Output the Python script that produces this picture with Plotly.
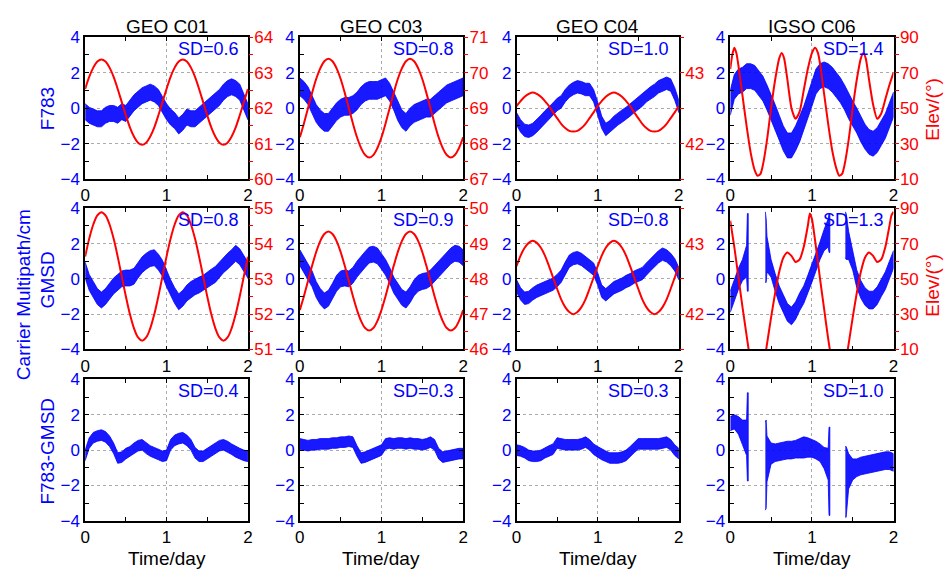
import plotly.graph_objects as go

W, H = 946, 581
FONT = "Liberation Sans, Arial, sans-serif"
BLUE = "#0000FF"
RED = "#FF0000"

# ---------------- data ----------------
t = [0.0, 0.05, 0.1, 0.15, 0.2, 0.25, 0.3, 0.35, 0.4, 0.45, 0.5, 0.55, 0.6, 0.65, 0.7,
     0.75, 0.8, 0.85, 0.9, 0.95, 1.0, 1.05, 1.1, 1.15, 1.2, 1.25, 1.3, 1.35, 1.4, 1.45,
     1.5, 1.55, 1.6, 1.65, 1.7, 1.75, 1.8, 1.85, 1.9, 1.95, 2.0]

satellites = ["GEO C01", "GEO C03", "GEO C04", "IGSO C06"]

# F783 carrier multipath (cm): centre of the point cloud and its half spread
f783_c01 = [-0.2, -0.4, -0.5, -0.6, -0.6, -0.4, -0.3, -0.3, -0.4, -0.2, -0.3, 0.0, 0.3, 0.5, 0.7,
            0.8, 0.9, 0.8, 0.6, 0.2, -0.2, -0.5, -0.7, -1.0, -0.8, -0.5, -0.6, -0.6, -0.4, -0.2,
            0.0, 0.2, 0.4, 0.6, 0.9, 1.1, 1.2, 1.1, 0.9, 0.4, -0.2]
f783_c03 = [1.2, 1.0, 0.7, 0.2, -0.3, -0.6, -0.8, -0.8, -0.5, -0.2, 0.0, 0.1, 0.1, 0.2, 0.4,
            0.7, 0.9, 1.0, 1.0, 1.0, 1.1, 1.2, 0.9, 0.4, -0.2, -0.6, -0.8, -0.5, -0.3, -0.2,
            -0.1, 0.0, 0.0, 0.2, 0.4, 0.6, 0.8, 0.9, 1.0, 1.1, 1.2]
f783_c04 = [-0.6, -1.0, -1.25, -1.3, -1.2, -1.0, -0.75, -0.5, -0.3, -0.05, 0.2, 0.35, 0.7, 0.95, 1.1,
            1.2, 1.15, 1.05, 1.05, 0.7, 0.0, -0.8, -1.2, -1.05, -0.8, -0.6, -0.45, -0.3, -0.1, 0.1,
            0.3, 0.45, 0.7, 0.85, 1.0, 1.2, 1.3, 1.4, 1.3, 0.8, 0.1]
f783_c06 = [0.3, 1.2, 1.5, 1.6, 1.8, 1.8, 1.7, 1.4, 1.1, 0.6, 0.1, -0.5, -1.1, -1.7, -2.1,
            -2.1, -1.7, -1.2, -0.6, 0.1, 0.8, 1.5, 1.8, 1.9, 1.8, 1.6, 1.3, 1.0, 0.6, 0.1,
            -0.3, -0.7, -1.2, -1.6, -1.9, -2.0, -1.8, -1.4, -1.0, -0.4, 0.2]
f783_spread = [0.45, 0.5, 0.35, 0.7]

# GMSD carrier multipath (cm)
gmsd_c01 = [0.5, -0.2, -0.6, -1.0, -1.2, -1.0, -0.7, -0.4, -0.2, 0.0, 0.05, 0.05, 0.15, 0.5, 0.8,
            1.0, 1.15, 1.2, 0.95, 0.6, 0.0, -0.5, -0.95, -1.3, -1.1, -0.8, -0.6, -0.45, -0.35, -0.25,
            -0.05, 0.1, 0.25, 0.5, 0.8, 1.0, 1.2, 1.45, 1.25, 0.9, 0.5]
gmsd_c03 = [1.2, 0.8, 0.4, 0.0, -0.6, -1.0, -1.25, -1.1, -0.7, -0.25, 0.0, 0.05, 0.0, 0.2, 0.55,
            0.85, 1.1, 1.35, 1.4, 1.3, 1.0, 0.65, 0.2, -0.35, -0.7, -1.05, -1.2, -0.9, -0.5, -0.25,
            -0.15, -0.1, 0.05, 0.3, 0.5, 0.8, 1.05, 1.3, 1.45, 1.4, 1.2]
gmsd_c04 = [-0.4, -0.85, -1.1, -1.05, -0.85, -0.7, -0.6, -0.5, -0.4, -0.3, -0.1, 0.15, 0.6, 1.0, 1.15,
            1.2, 1.1, 0.9, 0.75, 0.55, 0.0, -0.7, -0.9, -0.7, -0.5, -0.4, -0.3, -0.15, -0.05, 0.1,
            0.2, 0.3, 0.55, 0.8, 1.05, 1.25, 1.4, 1.3, 1.1, 0.8, 0.3]
gmsd_spread = [0.45, 0.45, 0.35]

# F783-GMSD difference (cm)
diff_c01 = [-0.3, 0.4, 0.7, 0.8, 0.85, 0.75, 0.5, 0.1, -0.45, -0.4, -0.2, -0.1, 0.1, 0.25, 0.3,
            0.1, -0.05, -0.15, -0.25, -0.35, -0.3, 0.3, 0.55, 0.65, 0.7, 0.55, 0.3, -0.15, -0.35, -0.35,
            -0.2, -0.05, 0.1, 0.25, 0.3, 0.2, 0.05, -0.1, -0.2, -0.3, -0.35]
diff_c03 = [0.35, 0.3, 0.25, 0.3, 0.3, 0.35, 0.35, 0.35, 0.4, 0.4, 0.45, 0.45, 0.5, 0.45, -0.05,
            -0.45, -0.4, -0.3, -0.2, -0.1, 0.0, 0.35, 0.4, 0.35, 0.4, 0.4, 0.35, 0.4, 0.35, 0.35,
            0.3, 0.35, 0.45, 0.3, -0.2, -0.4, -0.35, -0.3, -0.25, -0.2, -0.2]
diff_c04 = [0.0, -0.05, -0.15, -0.3, -0.35, -0.35, -0.3, -0.15, -0.05, 0.05, 0.4, 0.35, 0.3, 0.3, 0.3,
            0.3, 0.35, 0.45, 0.3, 0.05, -0.1, -0.25, -0.35, -0.45, -0.45, -0.45, -0.4, -0.3, -0.1, 0.15,
            0.35, 0.35, 0.35, 0.35, 0.35, 0.35, 0.4, 0.45, 0.3, 0.0, -0.2]
diff_spread = [0.3, 0.3, 0.3]

# C06 at GMSD has data gaps (None separates the tracked arcs)
t_c06_gap = [0.0, 0.05, 0.1, 0.15, 0.2, 0.21, 0.22, None,
             0.43, 0.44, 0.45, 0.5, 0.55, 0.6, 0.65, 0.7, 0.75, 0.8, 0.85, 0.9, 0.95, 1.0, 1.05, 1.1,
             1.15, 1.2, 1.21, 1.22, None,
             1.41, 1.42, 1.45, 1.5, 1.55, 1.6, 1.65, 1.7, 1.75, 1.8, 1.85, 1.9, 1.95, 2.0]
gmsd_c06 = [-1.3, -0.6, 0.0, 0.5, 1.0, 1.5, 1.5, None,
            1.8, 1.6, 1.4, 0.6, -0.2, -0.9, -1.4, -1.9, -2.1, -1.8, -1.3, -0.9, -0.3, 0.3, 0.9, 1.6,
            2.2, 2.6, 2.6, 2.6, None,
            2.5, 2.4, 1.9, 1.0, 0.0, -0.6, -1.0, -1.2, -1.2, -0.95, -0.5, -0.1, 0.5, 1.1]
gmsd_c06_spread = [0.6, 0.6, 0.6, 0.6, 0.9, 2.2, 2.2, None,
                   2.0, 1.8, 1.0, 0.5, 0.5, 0.5, 0.5, 0.5, 0.5, 0.5, 0.5, 0.5, 0.5, 0.5, 0.5, 0.5,
                   0.6, 0.8, 1.1, 1.1, None,
                   1.3, 1.3, 0.8, 0.5, 0.5, 0.5, 0.5, 0.5, 0.5, 0.5, 0.5, 0.5, 0.5, 0.5]
diff_c06 = [1.5, 1.6, 1.4, 1.0, 0.7, 0.75, 0.75, None,
            -0.9, -0.8, -0.5, -0.2, -0.15, -0.1, -0.05, 0.0, 0.0, 0.05, 0.1, 0.15, 0.15, 0.1, 0.0, -0.15,
            -0.45, -0.8, -1.2, -1.2, None,
            -1.8, -1.8, -1.2, -1.1, -1.0, -0.9, -0.85, -0.8, -0.75, -0.7, -0.65, -0.6, -0.6, -0.7]
diff_c06_spread = [0.4, 0.4, 0.5, 0.7, 1.0, 2.5, 2.5, None,
                   2.5, 2.5, 1.3, 0.6, 0.5, 0.5, 0.5, 0.5, 0.5, 0.5, 0.55, 0.6, 0.55, 0.5, 0.5, 0.5,
                   0.6, 0.9, 2.5, 2.5, None,
                   2.0, 2.0, 1.0, 0.6, 0.5, 0.5, 0.5, 0.5, 0.5, 0.5, 0.5, 0.5, 0.5, 0.5]

# Elevation (deg), right axes
elev_f783_c01 = [62.54, 62.88, 63.14, 63.31, 63.37, 63.31, 63.14, 62.88, 62.54, 62.17, 61.80, 61.46,
                 61.20, 61.03, 60.97, 61.03, 61.20, 61.46, 61.80, 62.17, 62.54, 62.88, 63.14, 63.31,
                 63.37, 63.31, 63.14, 62.88, 62.54, 62.17, 61.80, 61.46, 61.20, 61.03, 60.97, 61.03,
                 61.20, 61.46, 61.80, 62.17, 62.54]
elev_f783_c03 = [68.18, 68.57, 69.00, 69.43, 69.82, 70.12, 70.32, 70.39, 70.32, 70.12, 69.82, 69.43,
                 69.00, 68.57, 68.18, 67.88, 67.68, 67.61, 67.68, 67.88, 68.18, 68.57, 69.00, 69.43,
                 69.82, 70.12, 70.32, 70.39, 70.32, 70.12, 69.82, 69.43, 69.00, 68.57, 68.18, 67.88,
                 67.68, 67.61, 67.68, 67.88, 68.18]
elev_f783_c04 = [42.53, 42.60, 42.66, 42.70, 42.72, 42.70, 42.66, 42.60, 42.53, 42.44, 42.36, 42.28,
                 42.22, 42.18, 42.17, 42.18, 42.22, 42.28, 42.36, 42.44, 42.53, 42.60, 42.66, 42.70,
                 42.72, 42.70, 42.66, 42.60, 42.53, 42.44, 42.36, 42.28, 42.22, 42.18, 42.17, 42.18,
                 42.22, 42.28, 42.36, 42.44, 42.53]
t_elev_f783_c06 = [0.0, 0.025, 0.05, 0.075, 0.1, 0.15, 0.2, 0.25, 0.3, 0.335, 0.37, 0.4, 0.45, 0.5,
                   0.55, 0.6, 0.63, 0.66, 0.7, 0.75, 0.8, 0.85, 0.9, 0.95, 1.0, 1.04, 1.075, 1.1,
                   1.15, 1.2, 1.25, 1.3, 1.335, 1.37, 1.4, 1.45, 1.5, 1.55, 1.6, 1.63, 1.66, 1.7,
                   1.75, 1.8, 1.85, 1.9, 1.95, 2.0]
elev_f783_c06 = [72, 80, 84, 81, 74, 57, 40, 25, 15, 12, 13, 18, 32, 50, 66, 78, 81, 78, 66, 50,
                 44, 48, 60, 72, 81, 84, 81, 75, 58, 41, 26, 16, 12, 13, 18, 32, 50, 66, 78, 81,
                 78, 66, 52, 44, 47, 55, 63, 70]

elev_gmsd_c01 = [53.63, 54.14, 54.54, 54.80, 54.89, 54.80, 54.54, 54.14, 53.63, 53.07, 52.51, 52.00,
                 51.60, 51.34, 51.25, 51.34, 51.60, 52.00, 52.51, 53.07, 53.63, 54.14, 54.54, 54.80,
                 54.89, 54.80, 54.54, 54.14, 53.63, 53.07, 52.51, 52.00, 51.60, 51.34, 51.25, 51.34,
                 51.60, 52.00, 52.51, 53.07, 53.63]
elev_gmsd_c03 = [47.12, 47.51, 47.94, 48.37, 48.76, 49.07, 49.27, 49.34, 49.27, 49.07, 48.76, 48.37,
                 47.94, 47.51, 47.12, 46.81, 46.61, 46.54, 46.61, 46.81, 47.12, 47.51, 47.94, 48.37,
                 48.76, 49.07, 49.27, 49.34, 49.27, 49.07, 48.76, 48.37, 47.94, 47.51, 47.12, 46.81,
                 46.61, 46.54, 46.61, 46.81, 47.12]
elev_gmsd_c04 = [42.68, 42.83, 42.94, 43.01, 43.04, 43.01, 42.94, 42.83, 42.68, 42.52, 42.36, 42.21,
                 42.10, 42.03, 42.00, 42.03, 42.10, 42.21, 42.36, 42.52, 42.68, 42.83, 42.94, 43.01,
                 43.04, 43.01, 42.94, 42.83, 42.68, 42.52, 42.36, 42.21, 42.10, 42.03, 42.00, 42.03,
                 42.10, 42.21, 42.36, 42.52, 42.68]
t_elev_gmsd_c06 = [0.0, 0.05, 0.1, 0.15, 0.2, 0.25, 0.3, 0.35, 0.4, 0.45, 0.5, 0.55, 0.6, 0.65, 0.7,
                   0.75, 0.8, 0.85, 0.9, 0.95, 0.975, 1.0, 1.05, 1.1, 1.15, 1.2, 1.25, 1.3, 1.35,
                   1.4, 1.45, 1.5, 1.55, 1.6, 1.65, 1.7, 1.75, 1.8, 1.85, 1.9, 1.95, 1.975, 2.0]
elev_gmsd_c06 = [83, 68, 51, 34, 18, 3, -6, -8, -2, 13, 28, 42, 54, 62, 65, 63, 59.5, 61, 68, 80,
                 87, 84, 68, 50, 33, 16, 2, -7, -8, -1, 13, 28, 42, 54, 62, 65, 63, 59.5, 61, 68,
                 80, 86, 88]

sd_f783 = ["SD=0.6", "SD=0.8", "SD=1.0", "SD=1.4"]
sd_gmsd = ["SD=0.8", "SD=0.9", "SD=0.8", "SD=1.3"]
sd_diff = ["SD=0.4", "SD=0.3", "SD=0.3", "SD=1.0"]

elev_range = [[[60, 64], [67, 71], [41.5, 43.5], [10, 90]],
              [[51, 55], [46, 50], [41.5, 43.5], [10, 90]]]
elev_ticks = [[[60, 61, 62, 63, 64], [67, 68, 69, 70, 71], [42, 43], [10, 30, 50, 70, 90]],
              [[51, 52, 53, 54, 55], [46, 47, 48, 49, 50], [42, 43], [10, 30, 50, 70, 90]]]
elev_minor = [[[60.5, 61.5, 62.5, 63.5], [67.5, 68.5, 69.5, 70.5], [41.5, 42.5, 43.5], [20, 40, 60, 80]],
              [[51.5, 52.5, 53.5, 54.5], [46.5, 47.5, 48.5, 49.5], [41.5, 42.5, 43.5], [20, 40, 60, 80]]]

# ---------------- layout geometry (pixels) ----------------
col_px = [(81, 245.5), (298, 463), (517, 681), (733, 898)]
row_px = [(29, 176), (206, 352), (383, 529)]

blue_rows = [
    [(t, f783_c01, f783_spread[0]), (t, f783_c03, f783_spread[1]),
     (t, f783_c04, f783_spread[2]), (t, f783_c06, f783_spread[3])],
    [(t, gmsd_c01, gmsd_spread[0]), (t, gmsd_c03, gmsd_spread[1]),
     (t, gmsd_c04, gmsd_spread[2]), (t_c06_gap, gmsd_c06, gmsd_c06_spread)],
    [(t, diff_c01, diff_spread[0]), (t, diff_c03, diff_spread[1]),
     (t, diff_c04, diff_spread[2]), (t_c06_gap, diff_c06, diff_c06_spread)],
]
red_rows = [
    [(t, elev_f783_c01), (t, elev_f783_c03), (t, elev_f783_c04), (t_elev_f783_c06, elev_f783_c06)],
    [(t, elev_gmsd_c01), (t, elev_gmsd_c03), (t, elev_gmsd_c04), (t_elev_gmsd_c06, elev_gmsd_c06)],
]
sd_rows = [sd_f783, sd_gmsd, sd_diff]


def band(ts, cs, ss):
    if not isinstance(ss, list):
        ss = [ss] * len(ts)
    xs, ys, seg = [], [], []

    def flush():
        if seg:
            xs.extend([p[0] for p in seg] + [p[0] for p in reversed(seg)] + [None])
            ys.extend([p[1] + p[2] for p in seg] + [p[1] - p[2] for p in reversed(seg)] + [None])
            seg.clear()

    for a, b, c in zip(ts, cs, ss):
        if a is None:
            flush()
        else:
            seg.append((a, b, c))
    flush()
    return xs, ys


def nm(i):
    return "" if i == 1 else str(i)


fig = go.Figure()
layout = {}
annotations = []
TS = 17
tickfont_blue = dict(family=FONT, size=TS, color=BLUE)
tickfont_black = dict(family=FONT, size=TS, color="black")
tickfont_red = dict(family=FONT, size=TS, color=RED)
GRID = "#ababab"

for r in range(3):
    for c in range(4):
        p = r * 4 + c + 1
        x0, x1 = col_px[c]
        y0, y1 = row_px[r]
        layout["xaxis" + nm(p)] = dict(
            domain=[x0 / W, x1 / W], anchor="y" + nm(p), range=[0, 2],
            tickmode="array", tickvals=[0, 1, 2], ticktext=["0", "1", "2"],
            ticks="inside", ticklen=4, tickcolor="black", tickwidth=1,
            minor=dict(tickmode="array", tickvals=[0.5, 1.5], ticks="inside", ticklen=4,
                       tickcolor="black", showgrid=False),
            showline=True, linecolor="black", linewidth=1.5, mirror="ticks",
            showgrid=True, gridcolor=GRID, griddash="dot", gridwidth=1,
            zeroline=False, tickfont=tickfont_black, fixedrange=True)
        layout["yaxis" + nm(p)] = dict(
            domain=[1 - y1 / H, 1 - y0 / H], anchor="x" + nm(p), range=[-4, 4],
            tickmode="array", tickvals=[-4, -2, 0, 2, 4],
            ticks="inside", ticklen=4, tickcolor="black",
            minor=dict(tickmode="array", tickvals=[-3, -1, 1, 3], ticks="inside", ticklen=4,
                       tickcolor="black", showgrid=False),
            showline=True, linecolor="black", linewidth=1.5,
            mirror=("ticks" if r == 2 else True),
            showgrid=True, gridcolor=GRID, griddash="dot", gridwidth=1,
            zeroline=False, tickfont=tickfont_blue, fixedrange=True)

        bt, bc, bs = blue_rows[r][c]
        bx, by = band(bt, bc, bs)
        fig.add_trace(go.Scatter(
            x=bx, y=by, xaxis="x" + nm(p), yaxis="y" + nm(p), mode="lines",
            fill="toself", fillcolor="rgba(0,0,255,0.9)",
            line=dict(color=BLUE, width=0.8), hoverinfo="skip", showlegend=False))

        if r < 2:
            q = 12 + r * 4 + c + 1
            layout["yaxis" + str(q)] = dict(
                overlaying="y" + nm(p), side="right", anchor="x" + nm(p),
                range=elev_range[r][c], tickmode="array", tickvals=elev_ticks[r][c],
                ticks="outside", ticklen=4, tickcolor=RED, tickwidth=1.2,
                ticklabelstandoff=-2,
                minor=dict(tickmode="array", tickvals=elev_minor[r][c], ticks="outside",
                           ticklen=4, tickcolor=RED, showgrid=False),
                showline=False, showgrid=False, zeroline=False,
                tickfont=tickfont_red, fixedrange=True)
            rt, rv = red_rows[r][c]
            fig.add_trace(go.Scatter(
                x=rt, y=rv, xaxis="x" + nm(p), yaxis="y" + str(q), mode="lines",
                line=dict(color=RED, width=2, shape="spline",
                          smoothing=(0.6 if c == 3 else 1.0)),
                hoverinfo="skip", showlegend=False))

        annotations.append(dict(
            text=sd_rows[r][c], xref="x" + nm(p) + " domain", yref="y" + nm(p) + " domain",
            x=0.955, y=0.915, xanchor="right", yanchor="middle", showarrow=False,
            font=dict(family=FONT, size=18, color=BLUE)))

for c in range(4):
    xc = (col_px[c][0] + col_px[c][1]) / 2 / W
    annotations.append(dict(text=satellites[c], xref="paper", yref="paper", x=xc, y=1 - 18 / H,
                            xanchor="center", yanchor="middle", showarrow=False,
                            font=dict(family=FONT, size=19, color="black")))
    annotations.append(dict(text="Time/day", xref="paper", yref="paper", x=xc, y=1 - 568 / H,
                            xanchor="center", yanchor="middle", showarrow=False,
                            font=dict(family=FONT, size=19, color="black")))

left_titles = [("F783", 43, 103), ("GMSD", 43, 280), ("Carrier Multipath/cm", 19, 295),
               ("F783-GMSD", 43, 457)]
for txt, xp, yp in left_titles:
    annotations.append(dict(text=txt, xref="paper", yref="paper", x=xp / W, y=1 - yp / H,
                            xanchor="center", yanchor="middle", textangle=-90, showarrow=False,
                            font=dict(family=FONT, size=19, color=BLUE)))
for yp in (104, 286):
    annotations.append(dict(text="Elev/(°)", xref="paper", yref="paper", x=938 / W, y=1 - yp / H,
                            xanchor="center", yanchor="middle", textangle=-90, showarrow=False,
                            font=dict(family=FONT, size=19, color=RED)))

fig.update_layout(**layout)
fig.update_layout(width=W, height=H, autosize=False,
                  margin=dict(l=0, r=0, t=0, b=0, pad=0),
                  paper_bgcolor="white", plot_bgcolor="white",
                  font=dict(family=FONT), annotations=annotations, showlegend=False)

fig.write_html("out.html")
